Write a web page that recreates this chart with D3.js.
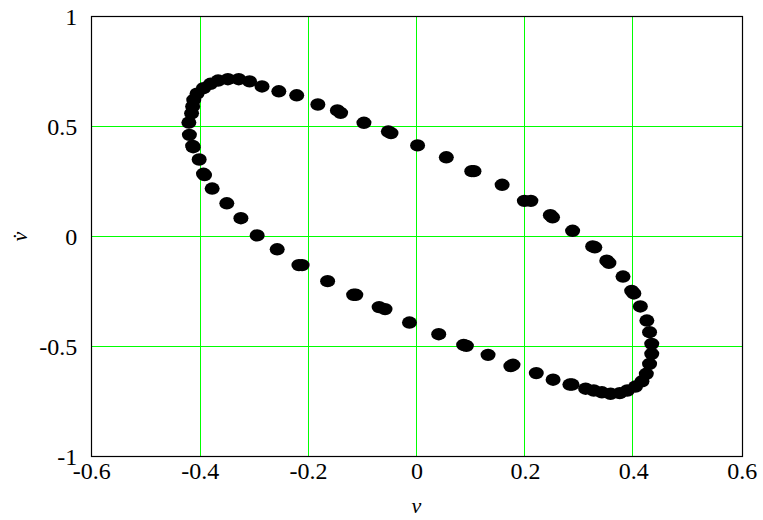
<!DOCTYPE html>
<html>
<head>
<meta charset="utf-8">
<script src="https://cdn.jsdelivr.net/npm/d3@7"></script>
<style>
  html, body { margin: 0; padding: 0; background: #ffffff; }
  svg { display: block; }
</style>
</head>
<body>
<svg id="chart" width="763" height="520"></svg>
<script>
// displacement v
const vValues = [
  -0.285, -0.254, -0.221, -0.182, -0.146, -0.140, -0.097, -0.052, -0.047, 0.002,
  0.055, 0.102, 0.106, 0.158, 0.199, 0.211, 0.247, 0.251, 0.288, 0.325, 0.329,
  0.351, 0.355, 0.381, 0.397, 0.401, 0.413, 0.425, 0.430, 0.434, 0.434, 0.430,
  0.424, 0.416, 0.404, 0.389, 0.375, 0.358, 0.342, 0.327, 0.312, 0.287, 0.283,
  0.252, 0.221, 0.178, 0.174, 0.132, 0.087, 0.092, 0.041, -0.013, -0.069, -0.058,
  -0.116, -0.112, -0.164, -0.217, -0.211, -0.257, -0.294, -0.324, -0.350, -0.377,
  -0.393, -0.391, -0.401, -0.413, -0.412, -0.419, -0.420, -0.415, -0.413, -0.411,
  -0.405, -0.393, -0.380, -0.366, -0.348, -0.328, -0.308
];
// velocity v-dot
const vDotValues = [
  0.682, 0.660, 0.642, 0.600, 0.573, 0.562, 0.517, 0.477, 0.470, 0.414,
  0.360, 0.297, 0.297, 0.235, 0.162, 0.162, 0.097, 0.087, 0.026, -0.045, -0.049,
  -0.110, -0.120, -0.182, -0.247, -0.259, -0.318, -0.382, -0.435, -0.488, -0.533, -0.579,
  -0.624, -0.658, -0.682, -0.700, -0.712, -0.715, -0.708, -0.700, -0.692, -0.673, -0.673,
  -0.651, -0.621, -0.583, -0.589, -0.538, -0.493, -0.497, -0.444, -0.391, -0.321, -0.330,
  -0.265, -0.265, -0.203, -0.130, -0.130, -0.058, 0.005, 0.083, 0.151, 0.218,
  0.285, 0.279, 0.350, 0.412, 0.406, 0.462, 0.518, 0.560, 0.591, 0.621,
  0.649, 0.674, 0.694, 0.709, 0.715, 0.715, 0.705
];
const xTickValues = [-0.6, -0.4, -0.2, 0, 0.2, 0.4, 0.6];
const xTickLabels = ["-0.6", "-0.4", "-0.2", "0", "0.2", "0.4", "0.6"];
const yTickValues = [-1, -0.5, 0, 0.5, 1];
const yTickLabels = ["-1", "-0.5", "0", "0.5", "1"];
const xGridValues = [-0.4, -0.2, 0, 0.2, 0.4];
const yGridValues = [-0.5, 0, 0.5];
const xTitle = "v";
const yTitle = "v\u0307";

(function () {
const points = vValues.map((v, i) => ({ v: v, vd: vDotValues[i] }));

const svg = d3.select("#chart");
const pLeft = 91.3, pRight = 741.7, pTop = 16.5, pBottom = 456.5;

const x = d3.scaleLinear().domain([-0.6, 0.6]).range([pLeft, pRight]);
const y = d3.scaleLinear().domain([-1, 1]).range([pBottom, pTop]);

const font = "'Liberation Serif', 'Times New Roman', serif";
// snap a 1px line to an even pixel column/row
const snap = p => 2 * Math.round((p - 0.5) / 2) + 0.5;

// grid
const grid = svg.append("g").attr("shape-rendering", "crispEdges");
grid.selectAll("line.gx").data(xGridValues).enter().append("line")
  .attr("class", "gx")
  .attr("x1", d => snap(x(d))).attr("x2", d => snap(x(d)))
  .attr("y1", pTop).attr("y2", pBottom)
  .attr("stroke", "#00ff00").attr("stroke-width", 1);
grid.selectAll("line.gy").data(yGridValues).enter().append("line")
  .attr("class", "gy")
  .attr("y1", d => Math.floor(y(d)) + 0.5).attr("y2", d => Math.floor(y(d)) + 0.5)
  .attr("x1", pLeft).attr("x2", pRight)
  .attr("stroke", "#00ff00").attr("stroke-width", 1);

// axes (labels only, via d3 axes)
const xAxis = d3.axisBottom(x).tickValues(xTickValues)
  .tickFormat((d, i) => xTickLabels[i]).tickSize(0).tickPadding(0);
const gx = svg.append("g").attr("transform", `translate(0,${pBottom})`).call(xAxis);
gx.select(".domain").remove();
gx.selectAll(".tick line").remove();
gx.selectAll("text")
  .attr("font-family", font).attr("font-size", 24).attr("fill", "#000")
  .attr("dy", null).attr("y", 22);

const yAxis = d3.axisLeft(y).tickValues(yTickValues)
  .tickFormat((d, i) => yTickLabels[i]).tickSize(0).tickPadding(0);
const gy = svg.append("g").attr("transform", `translate(${pLeft},0)`).call(yAxis);
gy.select(".domain").remove();
gy.selectAll(".tick line").remove();
gy.selectAll("text")
  .attr("font-family", font).attr("font-size", 24).attr("fill", "#000")
  .attr("dy", null).attr("y", 8).attr("x", -14);

// frame
svg.append("rect")
  .attr("x", 91.5).attr("y", pTop)
  .attr("width", 651).attr("height", pBottom - pTop)
  .attr("fill", "none").attr("stroke", "#000").attr("stroke-width", 1.2);

// points
svg.append("g").selectAll("ellipse").data(points).enter().append("ellipse")
  .attr("cx", d => x(d.v)).attr("cy", d => y(d.vd))
  .attr("rx", 7.5).attr("ry", 6.2)
  .attr("fill", "#000");

// titles
svg.append("text")
  .attr("x", x(0)).attr("y", 513)
  .attr("text-anchor", "middle")
  .attr("font-family", font).attr("font-style", "italic").attr("font-size", 22)
  .text(xTitle);

svg.append("text")
  .attr("transform", `translate(27,${y(0)}) rotate(-90)`)
  .attr("text-anchor", "middle")
  .attr("font-family", font).attr("font-style", "italic").attr("font-size", 22)
  .text(yTitle);
})();
</script>
</body>
</html>
